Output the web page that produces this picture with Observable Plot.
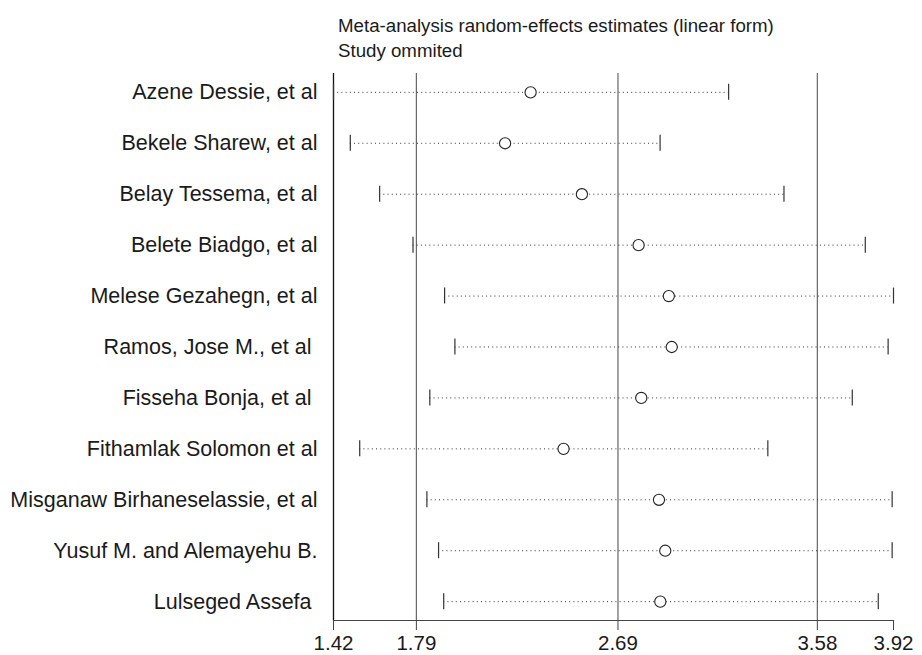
<!DOCTYPE html>
<html>
<head>
<meta charset="utf-8">
<script src="https://cdn.jsdelivr.net/npm/d3@7"></script>
<script src="https://cdn.jsdelivr.net/npm/@observablehq/plot@0.6"></script>
<style>
  html, body { margin: 0; padding: 0; background: #fff; }
  #title {
    box-sizing: border-box;
    height: 62px;
    padding: 13px 0 0 338px;
    font-family: "Liberation Sans", Arial, sans-serif;
    font-size: 18.7px;
    line-height: 25px;
    color: #1a1a1a;
  }
</style>
</head>
<body>
<div id="title">Meta-analysis random-effects estimates (linear form)<br>Study ommited</div>
<div id="chart"></div>
<script>
const studies = [
  "Azene Dessie, et al",
  "Bekele Sharew, et al",
  "Belay Tessema, et al",
  "Belete Biadgo, et al",
  "Melese Gezahegn, et al",
  "Ramos, Jose M., et al\u00a0",
  "Fisseha Bonja, et al\u00a0",
  "Fithamlak Solomon et al",
  "Misganaw Birhaneselassie, et al",
  "Yusuf M. and Alemayehu B.",
  "Lulseged Assefa\u00a0"
];
const estimate = [2.30, 2.186, 2.529, 2.782, 2.917, 2.930, 2.794, 2.447, 2.873, 2.901, 2.879];
const lowerCI  = [1.42, 1.495, 1.626, 1.775, 1.916, 1.962, 1.850, 1.537, 1.837, 1.889, 1.912];
const upperCI  = [3.184, 2.878, 3.431, 3.794, 3.92, 3.896, 3.736, 3.359, 3.914, 3.914, 3.852];
const overallLines = [1.79, 2.69, 3.58];
const axisMin = [1.42];
const xTicks = [1.42, 1.79, 2.69, 3.58, 3.92];

const rows = studies.map((name, i) => ({name, est: estimate[i], lo: lowerCI[i], hi: upperCI[i]}));

const chart = Plot.plot({
  width: 922,
  height: 593,
  marginTop: 11,
  marginBottom: 35,
  marginLeft: 333,
  marginRight: 29,
  style: {fontFamily: "'Liberation Sans', Arial, sans-serif", color: "#1a1a1a", background: "#fff"},
  x: {domain: [1.42, 3.92]},
  y: {type: "point", domain: studies, padding: 0.37, round: false},
  marks: [
    Plot.ruleX(overallLines, {stroke: "#666", strokeWidth: 1.2}),
    Plot.ruleX(axisMin, {stroke: "#111", strokeWidth: 1.3}),
    Plot.frame({anchor: "bottom", stroke: "#444", strokeWidth: 1.2}),
    Plot.ruleY(rows, {y: "name", x1: "lo", x2: "hi", stroke: "#333", strokeWidth: 1, strokeDasharray: "1,3.2"}),
    Plot.ruleX(rows, {x: "lo", y1: "name", y2: "name", insetTop: -8, insetBottom: -8, stroke: "#333", strokeWidth: 1.2}),
    Plot.ruleX(rows, {x: "hi", y1: "name", y2: "name", insetTop: -8, insetBottom: -8, stroke: "#333", strokeWidth: 1.2}),
    Plot.dot(rows, {x: "est", y: "name", r: 5.6, stroke: "#222", fill: "#fff", strokeWidth: 1.1}),
    Plot.axisY({tickSize: 0, tickPadding: 16, fontSize: 21.5, label: null}),
    Plot.axisX({ticks: xTicks, tickSize: 10, tickPadding: 5, fontSize: 20.5, tickFormat: d3.format(".2f"), label: null, stroke: "#444"})
  ]
});
document.getElementById("chart").appendChild(chart);
</script>
</body>
</html>
